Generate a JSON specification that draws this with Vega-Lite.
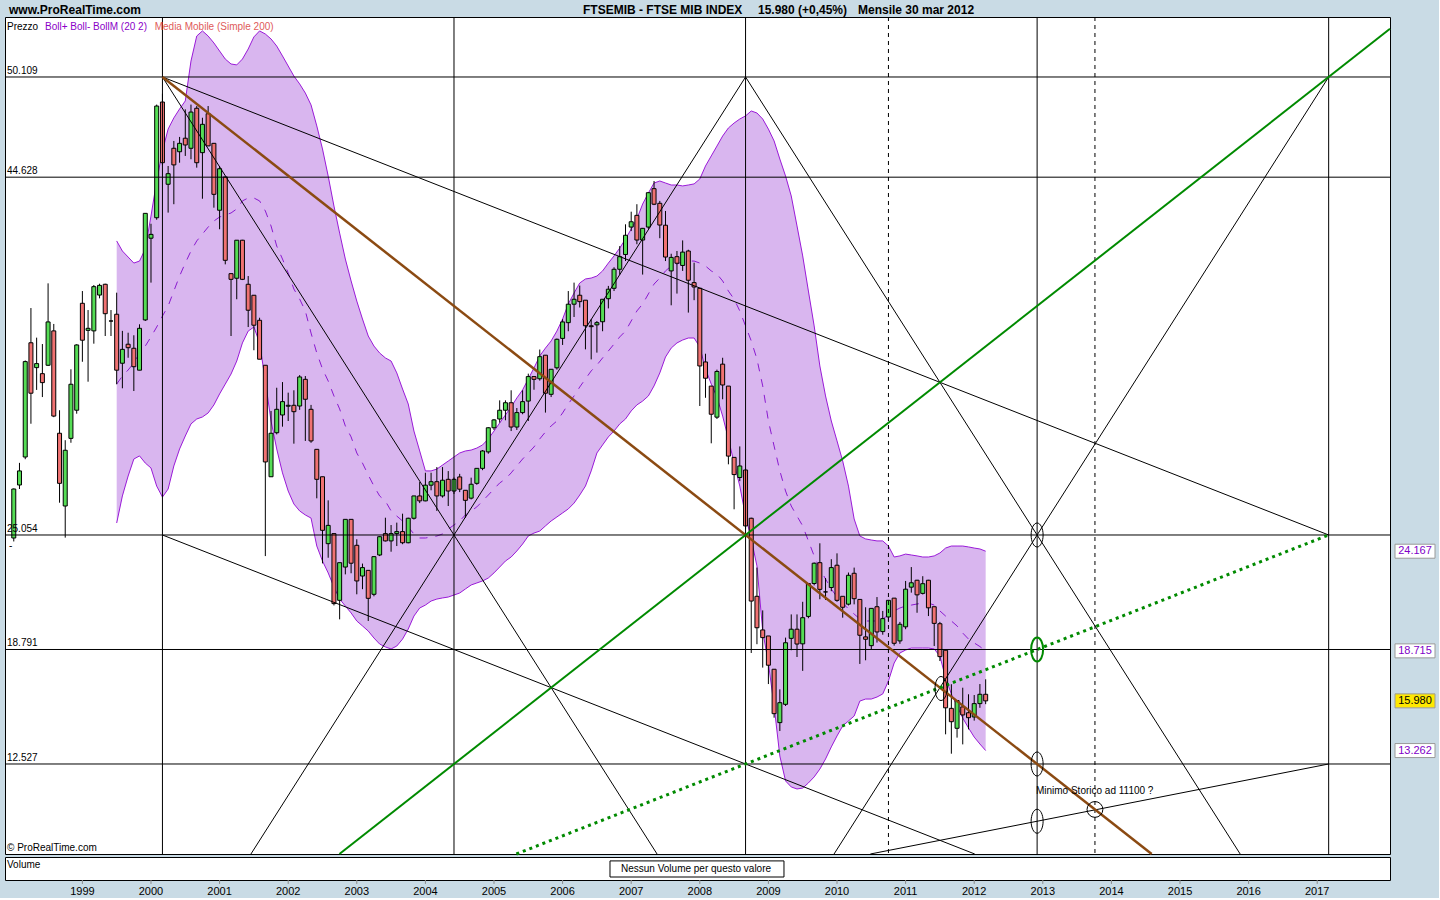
{
"$schema":"https://vega.github.io/schema/vega-lite/v6.json",
"background":"#c9dbe5",
"padding":{"left":4,"top":3,"right":2,"bottom":1},
"spacing":3,
"bounds":"flush",
"config":{"view":{"stroke":"#000000","strokeWidth":1,"fill":"#ffffff"},"font":"Liberation Sans"},
"datasets":{
"candles":[
{"t":1998.000,"o":24.89,"h":27.6,"l":24.7,"c":27.57},
{"t":1998.083,"o":27.79,"h":29.0,"l":27.57,"c":28.56},
{"t":1998.167,"o":29.32,"h":34.6,"l":29.2,"c":34.54},
{"t":1998.250,"o":35.57,"h":37.47,"l":31.14,"c":32.81},
{"t":1998.333,"o":34.21,"h":35.85,"l":32.99,"c":34.43},
{"t":1998.417,"o":33.88,"h":35.5,"l":32.6,"c":33.39},
{"t":1998.500,"o":34.34,"h":38.82,"l":34.3,"c":36.71},
{"t":1998.583,"o":36.22,"h":36.6,"l":31.5,"c":31.56},
{"t":1998.667,"o":30.62,"h":31.88,"l":26.82,"c":27.88},
{"t":1998.750,"o":26.64,"h":30.24,"l":24.91,"c":29.69},
{"t":1998.833,"o":30.34,"h":34.12,"l":30.1,"c":33.3},
{"t":1998.917,"o":31.88,"h":35.49,"l":31.69,"c":35.45},
{"t":1999.000,"o":37.73,"h":38.4,"l":34.53,"c":35.71},
{"t":1999.083,"o":36.25,"h":37.36,"l":33.44,"c":36.36},
{"t":1999.167,"o":36.22,"h":38.73,"l":35.52,"c":38.64},
{"t":1999.250,"o":38.18,"h":38.8,"l":38.0,"c":38.71},
{"t":1999.333,"o":38.77,"h":38.8,"l":35.94,"c":37.16},
{"t":1999.417,"o":36.76,"h":37.36,"l":35.94,"c":36.76},
{"t":1999.500,"o":37.13,"h":38.31,"l":33.3,"c":34.07},
{"t":1999.583,"o":34.45,"h":36.22,"l":33.08,"c":35.21},
{"t":1999.667,"o":35.49,"h":36.12,"l":34.75,"c":35.30},
{"t":1999.750,"o":35.27,"h":35.98,"l":32.93,"c":34.26},
{"t":1999.833,"o":34.07,"h":36.58,"l":34.07,"c":36.36},
{"t":1999.917,"o":36.82,"h":42.65,"l":36.76,"c":42.65},
{"t":2000.000,"o":41.29,"h":42.08,"l":38.86,"c":41.5},
{"t":2000.083,"o":42.41,"h":48.6,"l":42.3,"c":48.52},
{"t":2000.167,"o":48.74,"h":49.2,"l":45.3,"c":45.42},
{"t":2000.250,"o":44.24,"h":45.24,"l":42.69,"c":44.82},
{"t":2000.333,"o":46.21,"h":46.61,"l":43.15,"c":45.3},
{"t":2000.417,"o":46.02,"h":46.83,"l":45.42,"c":46.48},
{"t":2000.500,"o":46.76,"h":48.34,"l":45.79,"c":46.39},
{"t":2000.583,"o":46.21,"h":48.6,"l":45.61,"c":48.19},
{"t":2000.667,"o":48.4,"h":48.52,"l":45.15,"c":45.42},
{"t":2000.750,"o":45.97,"h":47.88,"l":43.45,"c":47.52},
{"t":2000.833,"o":48.1,"h":48.52,"l":46.34,"c":46.34},
{"t":2000.917,"o":46.48,"h":46.5,"l":42.96,"c":43.69},
{"t":2001.000,"o":42.82,"h":45.24,"l":41.78,"c":45.09},
{"t":2001.083,"o":44.64,"h":44.64,"l":39.86,"c":40.08},
{"t":2001.167,"o":39.35,"h":39.35,"l":35.94,"c":39.04},
{"t":2001.250,"o":39.10,"h":41.18,"l":37.95,"c":41.18},
{"t":2001.333,"o":41.18,"h":41.2,"l":39.0,"c":39.04},
{"t":2001.417,"o":38.77,"h":39.22,"l":36.43,"c":37.35},
{"t":2001.500,"o":38.17,"h":38.18,"l":35.16,"c":36.53},
{"t":2001.583,"o":36.8,"h":36.94,"l":34.67,"c":34.67},
{"t":2001.667,"o":34.34,"h":34.34,"l":23.9,"c":29.05},
{"t":2001.750,"o":28.24,"h":31.84,"l":28.24,"c":30.62},
{"t":2001.833,"o":30.65,"h":33.11,"l":30.56,"c":31.93},
{"t":2001.917,"o":31.62,"h":33.42,"l":30.98,"c":32.35},
{"t":2002.000,"o":32.1,"h":32.84,"l":31.29,"c":32.15},
{"t":2002.083,"o":32.15,"h":32.97,"l":30.05,"c":31.8},
{"t":2002.167,"o":32.11,"h":33.8,"l":31.9,"c":33.7},
{"t":2002.250,"o":33.57,"h":33.75,"l":30.2,"c":32.48},
{"t":2002.333,"o":31.93,"h":32.17,"l":30.1,"c":30.2},
{"t":2002.417,"o":29.74,"h":29.74,"l":27.06,"c":28.1},
{"t":2002.500,"o":28.24,"h":28.24,"l":23.5,"c":25.31},
{"t":2002.583,"o":24.58,"h":26.95,"l":23.81,"c":25.58},
{"t":2002.667,"o":25.13,"h":25.13,"l":21.2,"c":21.3},
{"t":2002.750,"o":21.48,"h":23.54,"l":20.44,"c":23.54},
{"t":2002.833,"o":23.3,"h":25.91,"l":22.9,"c":25.91},
{"t":2002.917,"o":25.91,"h":25.91,"l":22.96,"c":23.51},
{"t":2003.000,"o":24.49,"h":24.82,"l":21.81,"c":22.54},
{"t":2003.083,"o":22.81,"h":23.49,"l":22.09,"c":23.27},
{"t":2003.167,"o":23.12,"h":23.12,"l":20.35,"c":21.59},
{"t":2003.250,"o":21.81,"h":23.9,"l":21.7,"c":23.87},
{"t":2003.333,"o":23.96,"h":25.0,"l":23.9,"c":24.96},
{"t":2003.417,"o":25.13,"h":26.0,"l":24.7,"c":24.73},
{"t":2003.500,"o":24.73,"h":25.6,"l":24.14,"c":25.13},
{"t":2003.583,"o":25.13,"h":25.73,"l":24.45,"c":25.24},
{"t":2003.667,"o":25.24,"h":26.22,"l":24.55,"c":24.63},
{"t":2003.750,"o":24.63,"h":26.0,"l":24.6,"c":25.97},
{"t":2003.833,"o":25.97,"h":27.2,"l":25.9,"c":27.19},
{"t":2003.917,"o":27.19,"h":27.95,"l":26.8,"c":26.92},
{"t":2004.000,"o":26.92,"h":28.46,"l":26.9,"c":27.78},
{"t":2004.083,"o":27.78,"h":28.46,"l":27.5,"c":27.97},
{"t":2004.167,"o":27.97,"h":28.77,"l":26.37,"c":27.19},
{"t":2004.250,"o":27.19,"h":28.77,"l":27.1,"c":28.05},
{"t":2004.333,"o":28.1,"h":28.55,"l":26.64,"c":27.46},
{"t":2004.417,"o":27.46,"h":28.2,"l":27.3,"c":28.1},
{"t":2004.500,"o":28.23,"h":28.4,"l":27.4,"c":27.56},
{"t":2004.583,"o":27.5,"h":27.5,"l":26.0,"c":26.95},
{"t":2004.667,"o":27.07,"h":28.19,"l":27.0,"c":27.83},
{"t":2004.750,"o":27.88,"h":28.7,"l":27.8,"c":28.7},
{"t":2004.833,"o":28.7,"h":29.7,"l":28.6,"c":29.65},
{"t":2004.917,"o":29.6,"h":30.95,"l":29.5,"c":30.92},
{"t":2005.000,"o":30.92,"h":31.4,"l":30.8,"c":31.35},
{"t":2005.083,"o":31.4,"h":32.42,"l":31.2,"c":31.88},
{"t":2005.167,"o":31.88,"h":32.42,"l":31.33,"c":32.29},
{"t":2005.250,"o":32.29,"h":32.97,"l":30.74,"c":30.96},
{"t":2005.333,"o":30.96,"h":32.0,"l":30.8,"c":31.75},
{"t":2005.417,"o":31.75,"h":32.97,"l":31.66,"c":32.35},
{"t":2005.500,"o":32.38,"h":33.88,"l":31.29,"c":33.72},
{"t":2005.583,"o":33.72,"h":33.75,"l":33.0,"c":33.57},
{"t":2005.667,"o":33.6,"h":35.2,"l":33.5,"c":34.81},
{"t":2005.750,"o":34.89,"h":34.9,"l":31.75,"c":32.81},
{"t":2005.833,"o":32.75,"h":34.12,"l":32.6,"c":34.12},
{"t":2005.917,"o":34.2,"h":35.8,"l":34.1,"c":35.76},
{"t":2006.000,"o":35.81,"h":36.86,"l":35.45,"c":36.71},
{"t":2006.083,"o":36.67,"h":38.4,"l":36.2,"c":37.68},
{"t":2006.167,"o":37.68,"h":38.86,"l":36.98,"c":37.95},
{"t":2006.250,"o":38.17,"h":38.7,"l":37.5,"c":37.82},
{"t":2006.333,"o":37.9,"h":37.9,"l":35.21,"c":36.5},
{"t":2006.417,"o":36.5,"h":36.86,"l":34.66,"c":36.45},
{"t":2006.500,"o":36.55,"h":36.76,"l":35.03,"c":36.67},
{"t":2006.583,"o":36.72,"h":37.95,"l":36.2,"c":37.95},
{"t":2006.667,"o":37.98,"h":38.68,"l":37.45,"c":38.5},
{"t":2006.750,"o":38.55,"h":39.7,"l":38.4,"c":39.59},
{"t":2006.833,"o":39.59,"h":40.86,"l":39.3,"c":40.28},
{"t":2006.917,"o":40.4,"h":42.05,"l":40.04,"c":41.45},
{"t":2007.000,"o":41.9,"h":42.74,"l":41.68,"c":42.19},
{"t":2007.083,"o":42.54,"h":43.15,"l":40.96,"c":41.19},
{"t":2007.167,"o":41.19,"h":41.85,"l":39.3,"c":41.83},
{"t":2007.250,"o":41.9,"h":43.8,"l":41.8,"c":43.78},
{"t":2007.333,"o":44.0,"h":44.42,"l":43.1,"c":43.15},
{"t":2007.417,"o":43.2,"h":43.33,"l":41.29,"c":42.01},
{"t":2007.500,"o":42.0,"h":42.78,"l":40.04,"c":40.26},
{"t":2007.583,"o":39.5,"h":40.44,"l":37.62,"c":40.24},
{"t":2007.667,"o":40.28,"h":40.59,"l":38.26,"c":39.92},
{"t":2007.750,"o":39.8,"h":41.17,"l":39.5,"c":40.53},
{"t":2007.833,"o":40.59,"h":40.66,"l":37.22,"c":38.99},
{"t":2007.917,"o":38.86,"h":39.95,"l":37.9,"c":38.62},
{"t":2008.000,"o":38.55,"h":38.55,"l":32.11,"c":34.3},
{"t":2008.083,"o":34.52,"h":34.97,"l":32.56,"c":33.63},
{"t":2008.167,"o":33.2,"h":33.2,"l":30.07,"c":31.66},
{"t":2008.250,"o":31.5,"h":34.1,"l":31.4,"c":34.0},
{"t":2008.333,"o":34.4,"h":34.75,"l":32.48,"c":33.26},
{"t":2008.417,"o":33.2,"h":33.2,"l":28.92,"c":29.37},
{"t":2008.500,"o":29.3,"h":29.3,"l":26.46,"c":28.36},
{"t":2008.583,"o":28.2,"h":29.9,"l":28.0,"c":28.83},
{"t":2008.667,"o":28.61,"h":28.7,"l":25.37,"c":25.55},
{"t":2008.750,"o":25.97,"h":26.0,"l":18.6,"c":21.44},
{"t":2008.833,"o":21.7,"h":23.27,"l":19.08,"c":19.98},
{"t":2008.917,"o":19.86,"h":20.93,"l":17.8,"c":19.44},
{"t":2009.000,"o":19.53,"h":19.53,"l":16.9,"c":17.93},
{"t":2009.083,"o":17.71,"h":17.71,"l":15.06,"c":15.28},
{"t":2009.167,"o":14.79,"h":16.61,"l":14.33,"c":15.88},
{"t":2009.250,"o":15.79,"h":19.44,"l":15.7,"c":19.16},
{"t":2009.333,"o":19.4,"h":20.71,"l":18.75,"c":19.9},
{"t":2009.417,"o":19.9,"h":20.71,"l":18.38,"c":19.09},
{"t":2009.500,"o":19.1,"h":21.4,"l":17.62,"c":20.53},
{"t":2009.583,"o":20.6,"h":22.4,"l":20.5,"c":22.4},
{"t":2009.667,"o":22.4,"h":23.55,"l":22.3,"c":23.51},
{"t":2009.750,"o":23.54,"h":24.6,"l":21.54,"c":22.08},
{"t":2009.833,"o":21.94,"h":22.7,"l":21.5,"c":21.94},
{"t":2009.917,"o":22.18,"h":23.73,"l":21.98,"c":23.27},
{"t":2010.000,"o":23.4,"h":24.05,"l":21.4,"c":21.48},
{"t":2010.083,"o":21.7,"h":21.7,"l":20.53,"c":21.1},
{"t":2010.167,"o":21.27,"h":23.0,"l":21.2,"c":22.85},
{"t":2010.250,"o":22.96,"h":23.27,"l":21.26,"c":21.57},
{"t":2010.333,"o":21.53,"h":21.53,"l":18.0,"c":19.57},
{"t":2010.417,"o":19.48,"h":21.1,"l":18.2,"c":19.35},
{"t":2010.500,"o":19.0,"h":21.04,"l":18.8,"c":21.04},
{"t":2010.583,"o":21.13,"h":21.66,"l":19.17,"c":19.75},
{"t":2010.667,"o":19.77,"h":20.9,"l":19.6,"c":20.48},
{"t":2010.750,"o":20.57,"h":21.5,"l":20.3,"c":21.48},
{"t":2010.833,"o":21.6,"h":21.6,"l":19.0,"c":19.13},
{"t":2010.917,"o":19.26,"h":20.3,"l":19.1,"c":20.17},
{"t":2011.000,"o":20.03,"h":22.54,"l":19.9,"c":22.09},
{"t":2011.083,"o":22.2,"h":23.3,"l":21.9,"c":22.44},
{"t":2011.167,"o":22.58,"h":22.6,"l":20.8,"c":21.78},
{"t":2011.250,"o":21.86,"h":22.8,"l":21.8,"c":22.39},
{"t":2011.333,"o":22.58,"h":22.6,"l":20.62,"c":21.07},
{"t":2011.417,"o":21.13,"h":21.13,"l":18.98,"c":20.22},
{"t":2011.500,"o":20.2,"h":20.3,"l":18.16,"c":18.4},
{"t":2011.583,"o":18.75,"h":18.75,"l":14.15,"c":15.6},
{"t":2011.667,"o":15.57,"h":16.89,"l":13.09,"c":14.84},
{"t":2011.750,"o":14.48,"h":16.0,"l":13.97,"c":16.0},
{"t":2011.833,"o":15.65,"h":16.7,"l":13.6,"c":15.21},
{"t":2011.917,"o":15.33,"h":16.34,"l":14.42,"c":15.06},
{"t":2012.000,"o":15.1,"h":16.3,"l":14.9,"c":15.83},
{"t":2012.083,"o":15.83,"h":16.9,"l":15.6,"c":16.34},
{"t":2012.167,"o":16.34,"h":17.16,"l":15.8,"c":15.98}
],
"band":[
{"t":1999.500,"up":41.14,"mid":33.31,"lo":25.71},
{"t":1999.583,"up":40.59,"mid":33.75,"lo":27.19},
{"t":1999.667,"up":40.26,"mid":34.08,"lo":28.28},
{"t":1999.750,"up":39.93,"mid":34.46,"lo":29.21},
{"t":1999.833,"up":40.04,"mid":35.01,"lo":29.38},
{"t":1999.917,"up":40.70,"mid":35.39,"lo":28.99},
{"t":2000.000,"up":42.50,"mid":35.89,"lo":28.72},
{"t":2000.083,"up":44.42,"mid":36.43,"lo":27.73},
{"t":2000.167,"up":46.06,"mid":37.03,"lo":27.13},
{"t":2000.250,"up":47.26,"mid":37.58,"lo":27.57},
{"t":2000.333,"up":47.87,"mid":38.40,"lo":28.83},
{"t":2000.417,"up":48.36,"mid":39.22,"lo":29.76},
{"t":2000.500,"up":48.80,"mid":39.93,"lo":30.47},
{"t":2000.583,"up":50.98,"mid":40.59,"lo":31.13},
{"t":2000.667,"up":52.35,"mid":41.14,"lo":31.40},
{"t":2000.750,"up":52.63,"mid":41.52,"lo":31.51},
{"t":2000.833,"up":52.35,"mid":41.90,"lo":31.73},
{"t":2000.917,"up":51.97,"mid":42.23,"lo":32.17},
{"t":2001.000,"up":51.53,"mid":42.45,"lo":32.77},
{"t":2001.083,"up":51.09,"mid":42.56,"lo":33.31},
{"t":2001.167,"up":50.82,"mid":42.67,"lo":33.86},
{"t":2001.250,"up":50.77,"mid":42.89,"lo":34.57},
{"t":2001.333,"up":51.09,"mid":43.33,"lo":35.56},
{"t":2001.417,"up":51.64,"mid":43.49,"lo":36.21},
{"t":2001.500,"up":52.30,"mid":43.49,"lo":36.43},
{"t":2001.583,"up":52.63,"mid":43.33,"lo":35.56},
{"t":2001.667,"up":52.46,"mid":42.78,"lo":33.48},
{"t":2001.750,"up":52.19,"mid":41.96,"lo":31.29},
{"t":2001.833,"up":51.80,"mid":40.86,"lo":29.76},
{"t":2001.917,"up":51.26,"mid":40.15,"lo":28.45},
{"t":2002.000,"up":50.71,"mid":39.39,"lo":27.46},
{"t":2002.083,"up":50.16,"mid":38.51,"lo":26.75},
{"t":2002.167,"up":49.73,"mid":37.96,"lo":26.37},
{"t":2002.250,"up":49.23,"mid":37.31,"lo":26.15},
{"t":2002.333,"up":48.58,"mid":36.10,"lo":25.98},
{"t":2002.417,"up":47.43,"mid":35.01,"lo":24.45},
{"t":2002.500,"up":46.17,"mid":34.14,"lo":23.63},
{"t":2002.583,"up":44.69,"mid":33.48,"lo":22.98},
{"t":2002.667,"up":43.05,"mid":32.66,"lo":22.21},
{"t":2002.750,"up":41.57,"mid":31.95,"lo":21.55},
{"t":2002.833,"up":40.15,"mid":31.02,"lo":21.17},
{"t":2002.917,"up":38.95,"mid":30.42,"lo":20.79},
{"t":2003.000,"up":37.85,"mid":29.54,"lo":20.35},
{"t":2003.083,"up":36.87,"mid":28.99,"lo":20.08},
{"t":2003.167,"up":35.94,"mid":28.34,"lo":19.80},
{"t":2003.250,"up":35.39,"mid":27.73,"lo":19.42},
{"t":2003.333,"up":35.01,"mid":27.19,"lo":19.09},
{"t":2003.417,"up":34.74,"mid":26.91,"lo":18.93},
{"t":2003.500,"up":34.57,"mid":26.37,"lo":18.82},
{"t":2003.583,"up":33.92,"mid":26.09,"lo":18.98},
{"t":2003.667,"up":33.04,"mid":25.82,"lo":19.36},
{"t":2003.750,"up":32.22,"mid":25.49,"lo":19.91},
{"t":2003.833,"up":30.74,"mid":25.11,"lo":20.62},
{"t":2003.917,"up":29.65,"mid":24.89,"lo":21.06},
{"t":2004.000,"up":28.56,"mid":24.89,"lo":21.22},
{"t":2004.083,"up":28.56,"mid":24.94,"lo":21.44},
{"t":2004.167,"up":28.66,"mid":25.00,"lo":21.55},
{"t":2004.250,"up":28.88,"mid":25.11,"lo":21.61},
{"t":2004.333,"up":29.10,"mid":25.38,"lo":21.66},
{"t":2004.417,"up":29.32,"mid":25.60,"lo":21.77},
{"t":2004.500,"up":29.54,"mid":25.82,"lo":21.88},
{"t":2004.583,"up":29.65,"mid":26.15,"lo":22.10},
{"t":2004.667,"up":29.70,"mid":26.37,"lo":22.32},
{"t":2004.750,"up":29.81,"mid":26.59,"lo":22.43},
{"t":2004.833,"up":29.98,"mid":26.91,"lo":22.54},
{"t":2004.917,"up":30.31,"mid":27.24,"lo":22.70},
{"t":2005.000,"up":30.74,"mid":27.57,"lo":22.98},
{"t":2005.083,"up":31.18,"mid":27.90,"lo":23.30},
{"t":2005.167,"up":31.62,"mid":28.12,"lo":23.63},
{"t":2005.250,"up":32.06,"mid":28.45,"lo":23.85},
{"t":2005.333,"up":32.55,"mid":28.83,"lo":24.18},
{"t":2005.417,"up":32.99,"mid":29.21,"lo":24.56},
{"t":2005.500,"up":33.59,"mid":29.54,"lo":25.00},
{"t":2005.583,"up":34.19,"mid":29.87,"lo":25.16},
{"t":2005.667,"up":34.85,"mid":30.31,"lo":25.27},
{"t":2005.750,"up":35.28,"mid":30.69,"lo":25.55},
{"t":2005.833,"up":35.67,"mid":31.02,"lo":25.82},
{"t":2005.917,"up":36.21,"mid":31.29,"lo":26.04},
{"t":2006.000,"up":36.87,"mid":31.73,"lo":26.26},
{"t":2006.083,"up":37.69,"mid":32.22,"lo":26.48},
{"t":2006.167,"up":38.29,"mid":32.66,"lo":26.80},
{"t":2006.250,"up":38.84,"mid":33.15,"lo":27.24},
{"t":2006.333,"up":39.06,"mid":33.59,"lo":27.73},
{"t":2006.417,"up":39.11,"mid":34.03,"lo":28.56},
{"t":2006.500,"up":39.22,"mid":34.35,"lo":29.54},
{"t":2006.583,"up":39.50,"mid":34.74,"lo":29.98},
{"t":2006.667,"up":39.93,"mid":35.12,"lo":30.42},
{"t":2006.750,"up":40.32,"mid":35.50,"lo":30.74},
{"t":2006.833,"up":40.75,"mid":35.89,"lo":31.13},
{"t":2006.917,"up":41.25,"mid":36.21,"lo":31.40},
{"t":2007.000,"up":41.79,"mid":36.76,"lo":31.84},
{"t":2007.083,"up":42.34,"mid":37.31,"lo":32.17},
{"t":2007.167,"up":43.16,"mid":37.69,"lo":32.38},
{"t":2007.250,"up":43.76,"mid":38.24,"lo":32.66},
{"t":2007.333,"up":44.31,"mid":38.78,"lo":33.21},
{"t":2007.417,"up":44.42,"mid":39.11,"lo":33.92},
{"t":2007.500,"up":44.31,"mid":39.50,"lo":34.79},
{"t":2007.583,"up":44.20,"mid":39.77,"lo":35.28},
{"t":2007.667,"up":44.20,"mid":39.88,"lo":35.56},
{"t":2007.750,"up":44.15,"mid":39.99,"lo":35.72},
{"t":2007.833,"up":44.20,"mid":40.04,"lo":35.83},
{"t":2007.917,"up":44.26,"mid":40.04,"lo":35.83},
{"t":2008.000,"up":44.53,"mid":39.93,"lo":35.34},
{"t":2008.083,"up":45.24,"mid":39.77,"lo":34.14},
{"t":2008.167,"up":45.79,"mid":39.50,"lo":33.31},
{"t":2008.250,"up":46.33,"mid":39.33,"lo":32.60},
{"t":2008.333,"up":46.88,"mid":38.95,"lo":31.56},
{"t":2008.417,"up":47.32,"mid":38.40,"lo":30.31},
{"t":2008.500,"up":47.59,"mid":37.96,"lo":29.00},
{"t":2008.583,"up":47.81,"mid":37.31,"lo":27.73},
{"t":2008.667,"up":47.98,"mid":36.49,"lo":26.09},
{"t":2008.750,"up":48.25,"mid":35.67,"lo":24.84},
{"t":2008.833,"up":48.14,"mid":34.68,"lo":23.36},
{"t":2008.917,"up":47.81,"mid":33.21,"lo":19.80},
{"t":2009.000,"up":47.26,"mid":31.29,"lo":18.05},
{"t":2009.083,"up":46.61,"mid":29.92,"lo":15.70},
{"t":2009.167,"up":45.62,"mid":28.56,"lo":12.96},
{"t":2009.250,"up":44.69,"mid":27.46,"lo":11.60},
{"t":2009.333,"up":43.60,"mid":26.64,"lo":11.27},
{"t":2009.417,"up":41.96,"mid":26.09,"lo":11.16},
{"t":2009.500,"up":40.32,"mid":25.55,"lo":11.21},
{"t":2009.583,"up":38.40,"mid":24.73,"lo":11.49},
{"t":2009.667,"up":36.49,"mid":23.91,"lo":11.82},
{"t":2009.750,"up":34.30,"mid":23.19,"lo":12.25},
{"t":2009.833,"up":32.66,"mid":22.65,"lo":12.80},
{"t":2009.917,"up":31.29,"mid":22.10,"lo":13.46},
{"t":2010.000,"up":30.20,"mid":21.66,"lo":14.06},
{"t":2010.083,"up":29.10,"mid":21.33,"lo":14.61},
{"t":2010.167,"up":27.73,"mid":21.01,"lo":14.88},
{"t":2010.250,"up":25.93,"mid":20.73,"lo":15.15},
{"t":2010.333,"up":25.00,"mid":20.46,"lo":15.97},
{"t":2010.417,"up":24.84,"mid":20.35,"lo":16.08},
{"t":2010.500,"up":24.78,"mid":20.35,"lo":16.08},
{"t":2010.583,"up":24.73,"mid":20.35,"lo":16.19},
{"t":2010.667,"up":24.73,"mid":20.46,"lo":16.36},
{"t":2010.750,"up":24.45,"mid":20.68,"lo":17.07},
{"t":2010.833,"up":23.85,"mid":20.90,"lo":18.05},
{"t":2010.917,"up":23.91,"mid":21.06,"lo":18.60},
{"t":2011.000,"up":24.01,"mid":21.17,"lo":18.76},
{"t":2011.083,"up":23.96,"mid":21.22,"lo":18.87},
{"t":2011.167,"up":23.91,"mid":21.28,"lo":18.87},
{"t":2011.250,"up":23.85,"mid":21.33,"lo":18.87},
{"t":2011.333,"up":23.85,"mid":21.33,"lo":18.87},
{"t":2011.417,"up":23.91,"mid":21.22,"lo":18.82},
{"t":2011.500,"up":24.07,"mid":20.90,"lo":18.43},
{"t":2011.583,"up":24.34,"mid":20.62,"lo":17.23},
{"t":2011.667,"up":24.45,"mid":20.35,"lo":16.36},
{"t":2011.750,"up":24.45,"mid":20.08,"lo":15.70},
{"t":2011.833,"up":24.45,"mid":19.69,"lo":15.04},
{"t":2011.917,"up":24.40,"mid":19.36,"lo":14.50},
{"t":2012.000,"up":24.34,"mid":19.15,"lo":14.00},
{"t":2012.083,"up":24.29,"mid":18.95,"lo":13.62},
{"t":2012.167,"up":24.167,"mid":18.715,"lo":13.262}
],
"years":[{"t":1999,"y":"1999"},{"t":2000,"y":"2000"},{"t":2001,"y":"2001"},{"t":2002,"y":"2002"},{"t":2003,"y":"2003"},{"t":2004,"y":"2004"},{"t":2005,"y":"2005"},{"t":2006,"y":"2006"},{"t":2007,"y":"2007"},{"t":2008,"y":"2008"},{"t":2009,"y":"2009"},{"t":2010,"y":"2010"},{"t":2011,"y":"2011"},{"t":2012,"y":"2012"},{"t":2013,"y":"2013"},{"t":2014,"y":"2014"},{"t":2015,"y":"2015"},{"t":2016,"y":"2016"},{"t":2017,"y":"2017"}]
},
"vconcat":[
{
"width":1385,"height":837,
"layer":[
{"data":{"name":"band"},"mark":{"type":"area","color":"#d9b6ef","opacity":1},
 "encoding":{
  "x":{"field":"t","type":"quantitative","scale":{"domain":[1997.872,2018.061],"nice":false,"zero":false,"padding":0},"axis":null},
  "y":{"field":"up","type":"quantitative","scale":{"domain":[7.603,53.391],"nice":false,"zero":false,"padding":0},
       "axis":{"orient":"right","values":[10,15,20,25,30,35,40,45,50],"labelExpr":"format(datum.value,'.3f')","title":null,"grid":false,"domain":false,"tickSize":5,"tickColor":"#000000","labelFontSize":11,"labelColor":"#000000","labelFont":"Liberation Sans","labelPadding":2,"labelFontWeight":{"condition":{"test":"datum.value == 50","value":"bold"},"value":"normal"}}},
  "y2":{"field":"lo"}}},
{"data":{"name":"band"},"mark":{"type":"line","color":"#9a1ad8","strokeWidth":1},
 "encoding":{"x":{"field":"t","type":"quantitative","scale":{"domain":[1997.872,2018.061],"nice":false,"zero":false,"padding":0},"axis":null},
  "y":{"field":"up","type":"quantitative","scale":{"domain":[7.603,53.391],"nice":false,"zero":false,"padding":0},"axis":null}}},
{"data":{"name":"band"},"mark":{"type":"line","color":"#9a1ad8","strokeWidth":1},
 "encoding":{"x":{"field":"t","type":"quantitative","scale":{"domain":[1997.872,2018.061],"nice":false,"zero":false,"padding":0},"axis":null},
  "y":{"field":"lo","type":"quantitative","scale":{"domain":[7.603,53.391],"nice":false,"zero":false,"padding":0},"axis":null}}},
{"data":{"name":"band"},"mark":{"type":"line","color":"#8a1ad0","strokeWidth":1,"strokeDash":[8,8]},
 "encoding":{"x":{"field":"t","type":"quantitative","scale":{"domain":[1997.872,2018.061],"nice":false,"zero":false,"padding":0},"axis":null},
  "y":{"field":"mid","type":"quantitative","scale":{"domain":[7.603,53.391],"nice":false,"zero":false,"padding":0},"axis":null}}},
{"data":{"name":"candles"},"mark":{"type":"rule","color":"#000000","strokeWidth":1},
 "encoding":{"x":{"field":"t","type":"quantitative","scale":{"domain":[1997.872,2018.061],"nice":false,"zero":false,"padding":0},"axis":null},
  "y":{"field":"l","type":"quantitative","scale":{"domain":[7.603,53.391],"nice":false,"zero":false,"padding":0},"axis":null},
  "y2":{"field":"h"}}},
{"data":{"name":"candles"},"mark":{"type":"bar","width":4,"stroke":"#000000","strokeWidth":1},
 "encoding":{"x":{"field":"t","type":"quantitative","scale":{"domain":[1997.872,2018.061],"nice":false,"zero":false,"padding":0},"axis":null},
  "y":{"field":"o","type":"quantitative","scale":{"domain":[7.603,53.391],"nice":false,"zero":false,"padding":0},"axis":null},
  "y2":{"field":"c"},
  "color":{"condition":{"test":"datum.c > datum.o","value":"#55dd55"},"value":"#f07272"}}},
{"data":{"values":[{"v":50.109},{"v":44.628},{"v":25.054},{"v":18.791},{"v":12.527}]},"mark":{"type":"rule","color":"#000000","strokeWidth":1},
 "encoding":{"y":{"field":"v","type":"quantitative","scale":{"domain":[7.603,53.391],"nice":false,"zero":false,"padding":0},"axis":null}}},
{"data":{"values":[{"t":2000.167},{"t":2004.417},{"t":2008.667},{"t":2012.917},{"t":2017.167}]},"mark":{"type":"rule","color":"#000000","strokeWidth":1},
 "encoding":{"x":{"field":"t","type":"quantitative","scale":{"domain":[1997.872,2018.061],"nice":false,"zero":false,"padding":0},"axis":null}}},
{"data":{"values":[{"t":2010.75},{"t":2013.76}]},"mark":{"type":"rule","color":"#000000","strokeWidth":1,"strokeDash":[4,4]},
 "encoding":{"x":{"field":"t","type":"quantitative","scale":{"domain":[1997.872,2018.061],"nice":false,"zero":false,"padding":0},"axis":null}}},
{"data":{"values":[
  {"t1":2000.167,"v1":50.109,"t2":2017.167,"v2":25.054},
  {"t1":2000.167,"v1":25.054,"t2":2012.008,"v2":7.603},
  {"t1":2000.167,"v1":50.109,"t2":2007.377,"v2":7.603},
  {"t1":2008.667,"v1":50.109,"t2":2001.457,"v2":7.603},
  {"t1":2008.667,"v1":50.109,"t2":2015.877,"v2":7.603},
  {"t1":2017.167,"v1":50.109,"t2":2009.957,"v2":7.603},
  {"t1":2010.486,"v1":7.603,"t2":2017.167,"v2":12.527}]},
 "mark":{"type":"rule","color":"#000000","strokeWidth":1},
 "encoding":{"x":{"field":"t1","type":"quantitative","scale":{"domain":[1997.872,2018.061],"nice":false,"zero":false,"padding":0},"axis":null},
  "y":{"field":"v1","type":"quantitative","scale":{"domain":[7.603,53.391],"nice":false,"zero":false,"padding":0},"axis":null},
  "x2":{"field":"t2"},"y2":{"field":"v2"}}},
{"data":{"values":[{"t1":2000.167,"v1":50.109,"t2":2014.587,"v2":7.603}]},
 "mark":{"type":"rule","color":"#8b4a12","strokeWidth":2.5},
 "encoding":{"x":{"field":"t1","type":"quantitative","scale":{"domain":[1997.872,2018.061],"nice":false,"zero":false,"padding":0},"axis":null},
  "y":{"field":"v1","type":"quantitative","scale":{"domain":[7.603,53.391],"nice":false,"zero":false,"padding":0},"axis":null},
  "x2":{"field":"t2"},"y2":{"field":"v2"}}},
{"data":{"values":[{"t1":2002.747,"v1":7.603,"t2":2018.061,"v2":52.744}]},
 "mark":{"type":"rule","color":"#008a00","strokeWidth":2},
 "encoding":{"x":{"field":"t1","type":"quantitative","scale":{"domain":[1997.872,2018.061],"nice":false,"zero":false,"padding":0},"axis":null},
  "y":{"field":"v1","type":"quantitative","scale":{"domain":[7.603,53.391],"nice":false,"zero":false,"padding":0},"axis":null},
  "x2":{"field":"t2"},"y2":{"field":"v2"}}},
{"data":{"values":[{"t1":2005.326,"v1":7.603,"t2":2017.167,"v2":25.054}]},
 "mark":{"type":"rule","color":"#008a00","strokeWidth":3,"strokeDash":[3,4]},
 "encoding":{"x":{"field":"t1","type":"quantitative","scale":{"domain":[1997.872,2018.061],"nice":false,"zero":false,"padding":0},"axis":null},
  "y":{"field":"v1","type":"quantitative","scale":{"domain":[7.603,53.391],"nice":false,"zero":false,"padding":0},"axis":null},
  "x2":{"field":"t2"},"y2":{"field":"v2"}}},
{"data":{"values":[{"t":2012.917,"v":25.054},{"t":2012.917,"v":12.527},{"t":2012.917,"v":9.395},{"t":2011.516,"v":16.656}]},
 "mark":{"type":"point","shape":"M0,-1A0.5,1,0,1,1,0,1A0.5,1,0,1,1,0,-1Z","size":576,"filled":false,"color":"#000000","strokeWidth":1,"opacity":1},
 "encoding":{"x":{"field":"t","type":"quantitative","scale":{"domain":[1997.872,2018.061],"nice":false,"zero":false,"padding":0},"axis":null},
  "y":{"field":"v","type":"quantitative","scale":{"domain":[7.603,53.391],"nice":false,"zero":false,"padding":0},"axis":null}}},
{"data":{"values":[{"t":2012.917,"v":18.791}]},
 "mark":{"type":"point","shape":"M0,-1A0.5,1,0,1,1,0,1A0.5,1,0,1,1,0,-1Z","size":576,"filled":false,"color":"#008a00","strokeWidth":2,"opacity":1},
 "encoding":{"x":{"field":"t","type":"quantitative","scale":{"domain":[1997.872,2018.061],"nice":false,"zero":false,"padding":0},"axis":null},
  "y":{"field":"v","type":"quantitative","scale":{"domain":[7.603,53.391],"nice":false,"zero":false,"padding":0},"axis":null}}},
{"data":{"values":[{"t":2013.76,"v":10.04}]},
 "mark":{"type":"point","shape":"circle","size":250,"filled":false,"color":"#000000","strokeWidth":1,"opacity":1},
 "encoding":{"x":{"field":"t","type":"quantitative","scale":{"domain":[1997.872,2018.061],"nice":false,"zero":false,"padding":0},"axis":null},
  "y":{"field":"v","type":"quantitative","scale":{"domain":[7.603,53.391],"nice":false,"zero":false,"padding":0},"axis":null}}},
{"data":{"values":[{"t":1997.93,"v":53.774,"text":"www.ProRealTime.com"},{"t":2006.297,"v":53.774,"text":"FTSEMIB - FTSE MIB INDEX"},{"t":2008.848,"v":53.774,"text":"15.980 (+0,45%)"},{"t":2010.306,"v":53.774,"text":"Mensile  30 mar 2012"}]},
 "mark":{"type":"text","align":"left","baseline":"middle","fontSize":12,"fontWeight":"bold","color":"#000000","font":"Liberation Sans Narrow, Liberation Sans"},
 "encoding":{"x":{"field":"t","type":"quantitative","scale":{"domain":[1997.872,2018.061],"nice":false,"zero":false,"padding":0},"axis":null},
  "y":{"field":"v","type":"quantitative","scale":{"domain":[7.603,53.391],"nice":false,"zero":false,"padding":0},"axis":null},
  "text":{"field":"text"}}},
{"data":{"values":[{"t":1997.901,"v":52.844,"text":"Prezzo"}]},
 "mark":{"type":"text","align":"left","baseline":"middle","fontSize":10,"color":"#000000","font":"Liberation Sans Narrow, Liberation Sans"},
 "encoding":{"x":{"field":"t","type":"quantitative","scale":{"domain":[1997.872,2018.061],"nice":false,"zero":false,"padding":0},"axis":null},
  "y":{"field":"v","type":"quantitative","scale":{"domain":[7.603,53.391],"nice":false,"zero":false,"padding":0},"axis":null},
  "text":{"field":"text"}}},
{"data":{"values":[{"t":1997.901,"v":50.109,"text":"50.109"},{"t":1997.901,"v":44.628,"text":"44.628"},{"t":1997.901,"v":25.054,"text":"25.054"},{"t":1997.901,"v":18.791,"text":"18.791"},{"t":1997.901,"v":12.527,"text":"12.527"}]},
 "mark":{"type":"text","align":"left","baseline":"bottom","dy":-1,"fontSize":10,"color":"#000000","font":"Liberation Sans Narrow, Liberation Sans"},
 "encoding":{"x":{"field":"t","type":"quantitative","scale":{"domain":[1997.872,2018.061],"nice":false,"zero":false,"padding":0},"axis":null},
  "y":{"field":"v","type":"quantitative","scale":{"domain":[7.603,53.391],"nice":false,"zero":false,"padding":0},"axis":null},
  "text":{"field":"text"}}},
{"data":{"values":[{"t":1998.455,"v":52.844,"text":"Boll+ Boll- BollM (20 2)"}]},
 "mark":{"type":"text","align":"left","baseline":"middle","fontSize":10,"color":"#8a00c8","font":"Liberation Sans Narrow, Liberation Sans"},
 "encoding":{"x":{"field":"t","type":"quantitative","scale":{"domain":[1997.872,2018.061],"nice":false,"zero":false,"padding":0},"axis":null},
  "y":{"field":"v","type":"quantitative","scale":{"domain":[7.603,53.391],"nice":false,"zero":false,"padding":0},"axis":null},
  "text":{"field":"text"}}},
{"data":{"values":[{"t":2000.054,"v":52.844,"text":"Media Mobile (Simple 200)"}]},
 "mark":{"type":"text","align":"left","baseline":"middle","fontSize":10,"color":"#e05a5a","font":"Liberation Sans Narrow, Liberation Sans"},
 "encoding":{"x":{"field":"t","type":"quantitative","scale":{"domain":[1997.872,2018.061],"nice":false,"zero":false,"padding":0},"axis":null},
  "y":{"field":"v","type":"quantitative","scale":{"domain":[7.603,53.391],"nice":false,"zero":false,"padding":0},"axis":null},
  "text":{"field":"text"}}},
{"data":{"values":[{"t":1997.901,"v":7.93,"text":"© ProRealTime.com"},{"t":1997.93,"v":24.45,"text":"-"},{"t":2012.90,"v":11.05,"text":"Minimo Storico ad 11100 ?"}]},
 "mark":{"type":"text","align":"left","baseline":"middle","fontSize":10,"color":"#000000","font":"Liberation Sans Narrow, Liberation Sans"},
 "encoding":{"x":{"field":"t","type":"quantitative","scale":{"domain":[1997.872,2018.061],"nice":false,"zero":false,"padding":0},"axis":null},
  "y":{"field":"v","type":"quantitative","scale":{"domain":[7.603,53.391],"nice":false,"zero":false,"padding":0},"axis":null},
  "text":{"field":"text"}}},
{"data":{"values":[{"t1":2018.134,"t2":2018.717,"v1":23.784,"v2":24.55},{"t1":2018.134,"t2":2018.717,"v1":18.332,"v2":19.098},{"t1":2018.134,"t2":2018.717,"v1":12.879,"v2":13.645}]},
 "mark":{"type":"rect","fill":"#ffffff","stroke":"#9a9a9a","strokeWidth":1},
 "encoding":{"x":{"field":"t1","type":"quantitative","scale":{"domain":[1997.872,2018.061],"nice":false,"zero":false,"padding":0},"axis":null},
  "y":{"field":"v1","type":"quantitative","scale":{"domain":[7.603,53.391],"nice":false,"zero":false,"padding":0},"axis":null},
  "x2":{"field":"t2"},"y2":{"field":"v2"}}},
{"data":{"values":[{"t1":2018.134,"t2":2018.717,"v1":15.597,"v2":16.363}]},
 "mark":{"type":"rect","fill":"#ffe800","stroke":"#9a9a9a","strokeWidth":1},
 "encoding":{"x":{"field":"t1","type":"quantitative","scale":{"domain":[1997.872,2018.061],"nice":false,"zero":false,"padding":0},"axis":null},
  "y":{"field":"v1","type":"quantitative","scale":{"domain":[7.603,53.391],"nice":false,"zero":false,"padding":0},"axis":null},
  "x2":{"field":"t2"},"y2":{"field":"v2"}}},
{"data":{"values":[{"t":2018.426,"v":24.167,"text":"24.167"},{"t":2018.426,"v":18.715,"text":"18.715"},{"t":2018.426,"v":13.262,"text":"13.262"}]},
 "mark":{"type":"text","align":"center","baseline":"middle","fontSize":11,"color":"#8000c8","font":"Liberation Sans"},
 "encoding":{"x":{"field":"t","type":"quantitative","scale":{"domain":[1997.872,2018.061],"nice":false,"zero":false,"padding":0},"axis":null},
  "y":{"field":"v","type":"quantitative","scale":{"domain":[7.603,53.391],"nice":false,"zero":false,"padding":0},"axis":null},
  "text":{"field":"text"}}},
{"data":{"values":[{"t":2018.426,"v":15.98,"text":"15.980"}]},
 "mark":{"type":"text","align":"center","baseline":"middle","fontSize":11,"color":"#000000","font":"Liberation Sans"},
 "encoding":{"x":{"field":"t","type":"quantitative","scale":{"domain":[1997.872,2018.061],"nice":false,"zero":false,"padding":0},"axis":null},
  "y":{"field":"v","type":"quantitative","scale":{"domain":[7.603,53.391],"nice":false,"zero":false,"padding":0},"axis":null},
  "text":{"field":"text"}}}
]
},
{
"width":1385,"height":23,
"layer":[
{"data":{"values":[{"t1":2006.691,"t2":2009.227,"v1":0.13,"v2":0.83}]},
 "mark":{"type":"rect","fill":"#ffffff","stroke":"#000000","strokeWidth":1},
 "encoding":{"x":{"field":"t1","type":"quantitative","scale":{"domain":[1997.872,2018.061],"nice":false,"zero":false,"padding":0},"axis":null},
  "y":{"field":"v1","type":"quantitative","scale":{"domain":[0,1],"nice":false,"zero":false,"padding":0},"axis":null},
  "x2":{"field":"t2"},"y2":{"field":"v2"}}},
{"data":{"name":"years"},
 "mark":{"type":"rule","color":"#8a8a8a","strokeWidth":1},
 "encoding":{"x":{"field":"t","type":"quantitative","scale":{"domain":[1997.872,2018.061],"nice":false,"zero":false,"padding":0},"axis":null},
  "y":{"datum":0,"type":"quantitative","scale":{"domain":[0,1],"nice":false,"zero":false,"padding":0},"axis":null},
  "y2":{"datum":-0.17}}},
{"data":{"name":"years"},
 "mark":{"type":"text","align":"center","baseline":"middle","fontSize":11,"color":"#000000","font":"Liberation Sans Narrow, Liberation Sans"},
 "encoding":{"x":{"field":"t","type":"quantitative","scale":{"domain":[1997.872,2018.061],"nice":false,"zero":false,"padding":0},"axis":null},
  "y":{"datum":-0.5,"type":"quantitative","scale":{"domain":[0,1],"nice":false,"zero":false,"padding":0},"axis":null},
  "text":{"field":"y"}}},
{"data":{"values":[{"t":1997.901,"v":0.65,"text":"Volume"}]},
 "mark":{"type":"text","align":"left","baseline":"middle","fontSize":10,"color":"#000000","font":"Liberation Sans Narrow, Liberation Sans"},
 "encoding":{"x":{"field":"t","type":"quantitative","scale":{"domain":[1997.872,2018.061],"nice":false,"zero":false,"padding":0},"axis":null},
  "y":{"field":"v","type":"quantitative","scale":{"domain":[0,1],"nice":false,"zero":false,"padding":0},"axis":null},
  "text":{"field":"text"}}},
{"data":{"values":[{"t":2007.945,"v":0.48,"text":"Nessun Volume per questo valore"}]},
 "mark":{"type":"text","align":"center","baseline":"middle","fontSize":10,"color":"#000000","font":"Liberation Sans Narrow, Liberation Sans"},
 "encoding":{"x":{"field":"t","type":"quantitative","scale":{"domain":[1997.872,2018.061],"nice":false,"zero":false,"padding":0},"axis":null},
  "y":{"field":"v","type":"quantitative","scale":{"domain":[0,1],"nice":false,"zero":false,"padding":0},"axis":null},
  "text":{"field":"text"}}}
]
}
]
}
